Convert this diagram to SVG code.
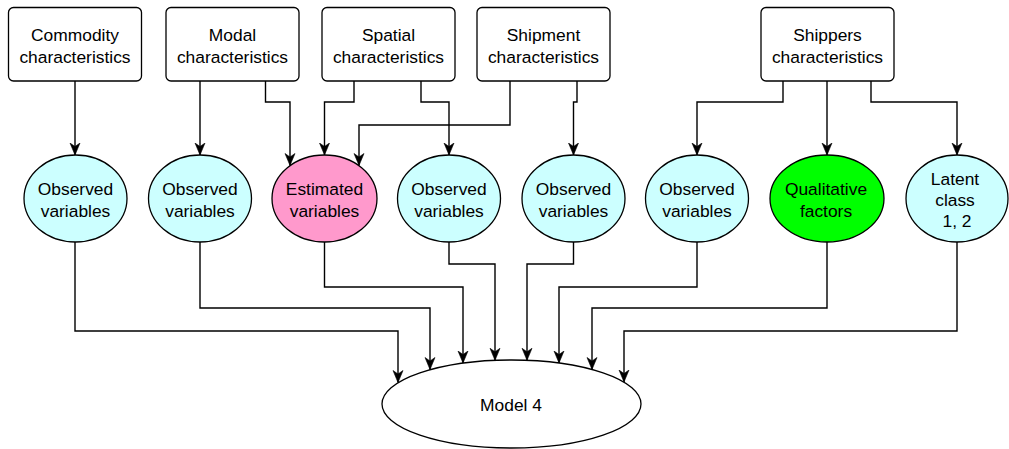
<svg xmlns="http://www.w3.org/2000/svg" width="1009" height="449" viewBox="0 0 1009 449">
<style>
text{font-family:"Liberation Sans",Arial,sans-serif;font-size:17.4px;fill:#000;text-anchor:middle}
.box{fill:#fff;stroke:#000;stroke-width:1.3}
.ell{stroke:#000;stroke-width:1.3}
.obs{fill:#CCFFFF}
.est{fill:#FF99CC}
.qual{fill:#00FF00}
.mod{fill:#fff}
.c{fill:none;stroke:#000;stroke-width:1.4;marker-end:url(#arr)}
</style>
<defs>
<marker id="arr" markerUnits="userSpaceOnUse" markerWidth="14" markerHeight="12" refX="12.5" refY="5.5" orient="auto" viewBox="0 0 14 12">
<path d="M0.5,0.5 L12.5,5.5 L0.5,10.5 L4,5.5 Z" fill="#000" stroke="#000" stroke-width="0.6"/>
</marker>
</defs>
<g id="connectors">
<path class="c" d="M75,81 V155"/>
<path class="c" d="M200,81 V155"/>
<path class="c" d="M265.5,81 V102 H290 V165.5"/>
<path class="c" d="M354,81 V102 H324.5 V155"/>
<path class="c" d="M421,81 V102 H449 V155"/>
<path class="c" d="M510,81 V125 H359 V165.5"/>
<path class="c" d="M577,81 V102 H573.5 V155"/>
<path class="c" d="M783,81 V102 H697 V155"/>
<path class="c" d="M827,81 V155"/>
<path class="c" d="M871,81 V102 H957 V155"/>
<path class="c" d="M75,242 V331 H398 V382.5"/>
<path class="c" d="M200,242 V308 H430 V369.5"/>
<path class="c" d="M324.5,242 V287 H463 V363"/>
<path class="c" d="M449,242 V264 H495 V360.3"/>
<path class="c" d="M573.5,242 V264 H527 V360.3"/>
<path class="c" d="M697,242 V287 H559 V363"/>
<path class="c" d="M827,242 V308 H592 V369.5"/>
<path class="c" d="M957,242 V331 H624 V382"/>
</g>
<g id="commodity"><rect class="box" x="8.5" y="7.5" width="133" height="73.5" rx="5"/><text x="75" y="41">Commodity</text><text x="75" y="62.5">characteristics</text></g>
<g id="modal"><rect class="box" x="166" y="7.5" width="133" height="73.5" rx="5"/><text x="232.5" y="41">Modal</text><text x="232.5" y="62.5">characteristics</text></g>
<g id="spatial"><rect class="box" x="322" y="7.5" width="133" height="73.5" rx="5"/><text x="388.5" y="41">Spatial</text><text x="388.5" y="62.5">characteristics</text></g>
<g id="shipment"><rect class="box" x="477" y="7.5" width="133" height="73.5" rx="5"/><text x="543.5" y="41">Shipment</text><text x="543.5" y="62.5">characteristics</text></g>
<g id="shippers"><rect class="box" x="761" y="7.5" width="133" height="73.5" rx="5"/><text x="827.5" y="41">Shippers</text><text x="827.5" y="62.5">characteristics</text></g>
<g id="obs1"><ellipse class="ell obs" cx="75.5" cy="198.5" rx="51.5" ry="43.5"/><text x="75.5" y="195">Observed</text><text x="75.5" y="216.5">variables</text></g>
<g id="obs2"><ellipse class="ell obs" cx="200" cy="198.5" rx="51.5" ry="43.5"/><text x="200" y="195">Observed</text><text x="200" y="216.5">variables</text></g>
<g id="est"><ellipse class="ell est" cx="324.5" cy="198.5" rx="52.5" ry="43.5"/><text x="324.5" y="195">Estimated</text><text x="324.5" y="216.5">variables</text></g>
<g id="obs4"><ellipse class="ell obs" cx="449" cy="198.5" rx="51.5" ry="43.5"/><text x="449" y="195">Observed</text><text x="449" y="216.5">variables</text></g>
<g id="obs5"><ellipse class="ell obs" cx="573.5" cy="198.5" rx="51.5" ry="43.5"/><text x="573.5" y="195">Observed</text><text x="573.5" y="216.5">variables</text></g>
<g id="obs6"><ellipse class="ell obs" cx="697" cy="198.5" rx="51.5" ry="43.5"/><text x="697" y="195">Observed</text><text x="697" y="216.5">variables</text></g>
<g id="qual"><ellipse class="ell qual" cx="827" cy="198.5" rx="57" ry="43.5"/><text x="826" y="195">Qualitative</text><text x="826" y="216.5">factors</text></g>
<g id="latent"><ellipse class="ell obs" cx="957" cy="198.5" rx="51" ry="43.5"/><text x="955" y="184.5">Latent</text><text x="955" y="205.5">class</text><text x="957" y="227">1, 2</text></g>
<g id="model4"><ellipse class="ell mod" cx="511.5" cy="404" rx="129.5" ry="44"/><text x="511" y="410.5">Model 4</text></g>
</svg>
